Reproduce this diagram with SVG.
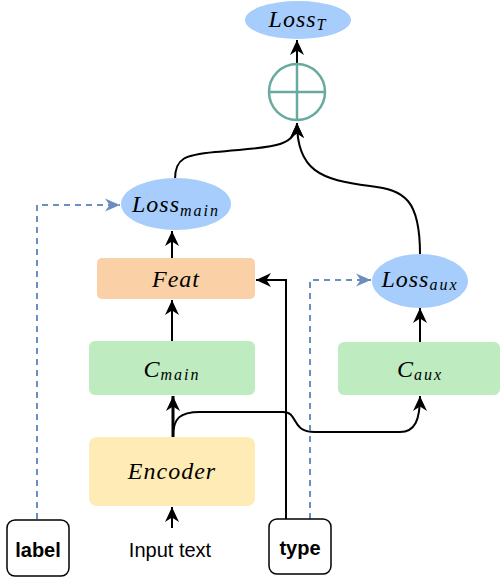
<svg xmlns="http://www.w3.org/2000/svg" width="502" height="581" viewBox="0 0 502 581">
<style>
.math{font-family:"Liberation Serif","Times New Roman",serif;font-style:italic;font-size:24px;letter-spacing:1px;fill:#000}
.sub{font-size:16px;letter-spacing:2px}
.lbl{font-family:"Liberation Sans",Arial,sans-serif;font-size:20px;fill:#000}
.ell{fill:#A6CDFB;stroke:none}
.green{fill:#BEEBBF}
.edge{fill:none;stroke:#000;stroke-width:2}
.dash{fill:none;stroke:#6C8EBF;stroke-width:2;stroke-dasharray:6 5}
</style>
<defs>
<marker id="ah" markerUnits="userSpaceOnUse" markerWidth="16" markerHeight="16" viewBox="0 0 16 16" refX="15" refY="8" orient="auto">
<path d="M0,1 L15,8 L0,15 L4.5,8 z" fill="#000"/>
</marker>
<marker id="ahb" markerUnits="userSpaceOnUse" markerWidth="16" markerHeight="16" viewBox="0 0 16 16" refX="15" refY="8" orient="auto">
<path d="M0,1.5 L15,8 L0,14.5 L4.5,8 z" fill="#6C8EBF"/>
</marker>
</defs>
<g id="connectors">
<path class="edge" d="M297,64 L297,40" marker-end="url(#ah)"/>
<path class="edge" d="M175,179 C175,158 185,155 215,152 C262,147 297,150 297,123" marker-end="url(#ah)"/>
<path class="edge" d="M420,254 C420,200 405,190 370,186 C320,180 297,170 297,123" marker-end="url(#ah)"/>
<path class="edge" d="M172,258 L172,231" marker-end="url(#ah)"/>
<path class="edge" d="M172,341 L172,300" marker-end="url(#ah)"/>
<path class="edge" style="stroke-width:3" d="M173,437 L173,396" marker-end="url(#ah)"/>
<path class="edge" d="M173,437 C173,418 180,412 200,412 L283,412 C299,412 290,432 315,432 L400,432 C415,432 420,420 420,396" marker-end="url(#ah)"/>
<path class="edge" d="M420,342 L420,308" marker-end="url(#ah)"/>
<path class="edge" d="M172,528 L172,507" marker-end="url(#ah)"/>
<path class="edge" d="M286,519 L286,280 L256,280" marker-end="url(#ah)"/>
<path class="dash" d="M37,519 L37,205 L120,205" marker-end="url(#ahb)"/>
<path class="dash" d="M310,519 L310,280 L371,280" marker-end="url(#ahb)"/>
</g>
<g id="lossT">
<ellipse class="ell" cx="298" cy="20" rx="53" ry="19"/>
<text class="math" x="298" y="27" text-anchor="middle">Loss<tspan class="sub" dy="3">T</tspan></text>
</g>
<g id="plus">
<circle cx="297" cy="92" r="28" fill="none" stroke="#67AB9F" stroke-width="2.5"/>
<path d="M269,92 L325,92 M297,64 L297,120" stroke="#67AB9F" stroke-width="2.5" fill="none"/>
</g>
<g id="lossMain">
<ellipse class="ell" cx="176" cy="204" rx="55" ry="26"/>
<text class="math" x="176" y="212" text-anchor="middle">Loss<tspan class="sub" dy="4">main</tspan></text>
</g>
<g id="feat">
<rect x="97" y="258" width="158" height="41" rx="5" fill="#FAD1A6"/>
<text class="math" x="176" y="287" text-anchor="middle">Feat</text>
</g>
<g id="cmain">
<rect class="green" x="89" y="341" width="166" height="54" rx="6"/>
<text class="math" x="172" y="377" text-anchor="middle">C<tspan class="sub" dy="3">main</tspan></text>
</g>
<g id="encoder">
<rect x="89" y="437" width="166" height="69" rx="8" fill="#FFEBB6"/>
<text class="math" x="172" y="479" text-anchor="middle">Encoder</text>
</g>
<g id="lossAux">
<ellipse class="ell" cx="420" cy="281" rx="48" ry="27"/>
<text class="math" x="420" y="287" text-anchor="middle">Loss<tspan class="sub" dy="3">aux</tspan></text>
</g>
<g id="caux">
<rect class="green" x="338" y="342" width="162" height="53" rx="6"/>
<text class="math" x="420" y="377" text-anchor="middle">C<tspan class="sub" dy="3">aux</tspan></text>
</g>
<g id="label">
<rect x="7" y="520" width="62" height="56" rx="8" fill="#fff" stroke="#000" stroke-width="1.5"/>
<text class="lbl" x="38" y="557" text-anchor="middle" font-weight="bold">label</text>
</g>
<g id="type">
<rect x="269" y="519" width="62" height="55" rx="8" fill="#fff" stroke="#000" stroke-width="1.5"/>
<text class="lbl" x="300" y="555" text-anchor="middle" font-weight="bold">type</text>
</g>
<g id="input">
<text class="lbl" x="170" y="557" text-anchor="middle">Input text</text>
</g>
</svg>
